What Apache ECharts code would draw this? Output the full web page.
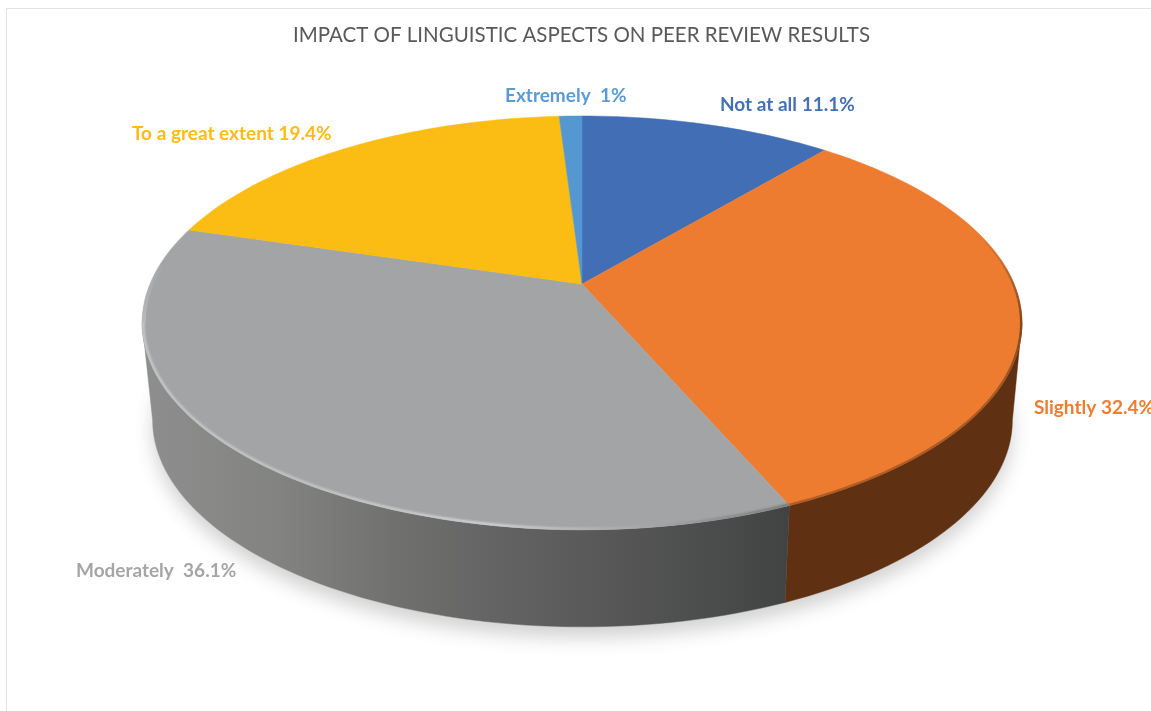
<!DOCTYPE html>
<html>
<head>
<meta charset="utf-8">
<style>html,body{margin:0;padding:0;background:#fff}#c{width:1151px;height:711px}</style>
<script src="https://cdn.jsdelivr.net/npm/echarts@6/dist/echarts.min.js"></script>
</head>
<body>
<div id="c"></div>
<script>
const categories = ['Not at all', 'Slightly', 'Moderately', 'To a great extent', 'Extremely'];
const values = [11.1, 32.4, 36.1, 19.4, 1];
const labelTexts = ['Not at all 11.1%', 'Slightly 32.4%', 'Moderately  36.1%', 'To a great extent 19.4%', 'Extremely  1%'];
const titleText = 'IMPACT OF LINGUISTIC ASPECTS ON PEER REVIEW RESULTS';

const topColors = ['#416EB5', '#ED7B30', '#A3A4A5', '#FBBC14', '#5597D1'];
const labelColors = ['#4470B4', '#ED7D31', '#A5A5A5', '#FDBB14', '#5B9BD5'];
const labelAnchors = [[720, 105], [1034, 408], [76, 571], [132, 134], [505, 96]];

/* perspective disc: apex, tilt, and the offset of the lower rim */
const APEX = [582, 284], RX = 432, RY = 199.6, TILT = 0.188;
const TOP_C = [582, 323], BOT_C = [582.5, 420], BOT_SX = 431 / 441;
const FRONT_START = 90 + Math.asin(TILT) * 180 / Math.PI;
const FRONT_END = 360 - FRONT_START;

const total = values.reduce((a, b) => a + b, 0);
function bounds(i) {
  let s = 0;
  for (let k = 0; k < i; k++) s += values[k];
  return [s / total * 360, (s + values[i]) / total * 360];
}
function rimPoint(deg) {
  const t = deg * Math.PI / 180, u = Math.sin(t), v = -Math.cos(t), w = 1 - TILT * v;
  return [APEX[0] + RX * u / w, APEX[1] + RY * v / w];
}
function lowPoint(deg) {
  const p = rimPoint(deg);
  return [BOT_C[0] + (p[0] - TOP_C[0]) * BOT_SX, BOT_C[1] + (p[1] - TOP_C[1])];
}
function arc(fn, a, b) {
  const n = Math.max(2, Math.ceil(Math.abs(b - a) / 1.5)), out = [];
  for (let i = 0; i <= n; i++) out.push(fn(a + (b - a) * i / n));
  return out;
}
function inset(k) {
  return d => {
    const p = rimPoint(d);
    return [TOP_C[0] + (p[0] - TOP_C[0]) * (1 - k), TOP_C[1] + (p[1] - TOP_C[1]) * (1 - 2 * k)];
  };
}
function grad(x, y, x2, y2, stops) {
  return { type: 'linear', x: x, y: y, x2: x2, y2: y2, global: true,
    colorStops: stops.map(s => ({ offset: s[0], color: s[1] })) };
}
const grayWall = grad(146, 0, 790, 0, [[0, '#8E8E8E'], [0.2, '#838382'], [0.4, '#6F6F6E'], [0.55, '#636363'],
  [0.72, '#575757'], [0.88, '#4B4C4C'], [1, '#414242']]);
const wallFills = ['#3A5E99', '#5F3012', grayWall, '#B98B10', '#3F6F99'];

const grayRim = grad(141, 0, 790, 0, [[0, '#C2C3C3'], [0.25, '#BEBFBF'], [0.55, '#CBCBCB'],
  [0.7, '#B0B1B1'], [0.8, '#A3A4A5'], [0.9, '#8F9090'], [1, '#7E7F7F']]);
const grayRimFade = grad(0, 262, 0, 323, [[0, 'rgba(194,195,195,0)'], [1, '#C2C3C3']]);
const orangeRim = grad(0, 235, 0, 520, [[0, 'rgba(110,60,25,0)'], [0.3, '#6E3F1C'], [0.55, '#9A5424'], [1, '#A85A24']]);

function strokeLine(points, color, width, opacity) {
  return { type: 'polyline', shape: { points: points },
    style: { fill: null, stroke: color, lineWidth: width, opacity: opacity } };
}
function renderShadow() {
  return {
    type: 'polygon',
    shape: { points: arc(lowPoint, 0, 360) },
    style: { fill: '#ffffff', shadowBlur: 18, shadowOffsetY: 11, shadowColor: 'rgba(70,70,70,0.24)' }
  };
}
function renderWall(params, api) {
  const i = params.dataIndex, b = bounds(i);
  api.value(0);
  const a1 = Math.max(b[0], FRONT_START), a2 = Math.min(b[1], FRONT_END);
  if (a2 <= a1) return { type: 'group', children: [] };
  const pts = arc(rimPoint, a1, a2).concat(arc(lowPoint, a2, a1));
  return {
    type: 'polygon',
    shape: { points: pts },
    style: { fill: wallFills[i], stroke: wallFills[i], lineWidth: 0.5 }
  };
}
function renderTop(params, api) {
  const i = params.dataIndex, b = bounds(i);
  api.value(0);
  const children = [{
    type: 'polygon',
    shape: { points: [APEX].concat(arc(rimPoint, b[0], b[1])) },
    style: { fill: topColors[i], stroke: topColors[i], lineWidth: 0.5 }
  }];
  if (categories[i] === 'Moderately') {
    children.push(strokeLine(arc(inset(0.004), b[0], FRONT_END), grayRim, 4, 0.3));
    children.push(strokeLine(arc(inset(0.0025), b[0], FRONT_END), grayRim, 2.4, 0.9));
    children.push(strokeLine(arc(inset(0.004), FRONT_END, FRONT_END + 18), grayRimFade, 3.5, 0.7));
  }
  if (categories[i] === 'Slightly') {
    children.push(strokeLine(arc(inset(0.0015), 62, b[1]), orangeRim, 2.4, 0.85));
  }
  children.push({
    type: 'text',
    style: {
      x: labelAnchors[i][0], y: labelAnchors[i][1],
      text: labelTexts[i], fill: labelColors[i],
      font: 'bold 19px Lato, "Noto Sans", sans-serif',
      textAlign: 'left', textVerticalAlign: 'middle'
    }
  });
  return { type: 'group', children: children };
}

const chart = echarts.init(document.getElementById('c'), null, { renderer: 'canvas' });
const sliceData = categories.map((name, i) => ({ name: name, value: [values[i]] }));
chart.setOption({
  backgroundColor: '#ffffff',
  animation: false,
  title: {
    text: titleText, left: 576.5, top: 20, textAlign: 'center',
    textStyle: { color: '#595959', fontWeight: 'normal', fontSize: 20.5, fontFamily: 'Lato, "Open Sans", sans-serif' }
  },
  graphic: [{
    type: 'rect', silent: true, z: -10,
    shape: { x: 6.5, y: 8.5, width: 1300, height: 900 },
    style: { fill: 'none', stroke: '#E2E2E2', lineWidth: 1 }
  }],
  series: [
    { type: 'custom', name: 'shadow', coordinateSystem: 'none', silent: true, z: 1, data: [[total]], renderItem: renderShadow },
    { type: 'custom', name: 'sides', coordinateSystem: 'none', silent: true, z: 2, data: sliceData, renderItem: renderWall },
    { type: 'custom', name: 'slices', coordinateSystem: 'none', silent: true, z: 3, data: sliceData, renderItem: renderTop }
  ]
});
</script>
</body>
</html>
